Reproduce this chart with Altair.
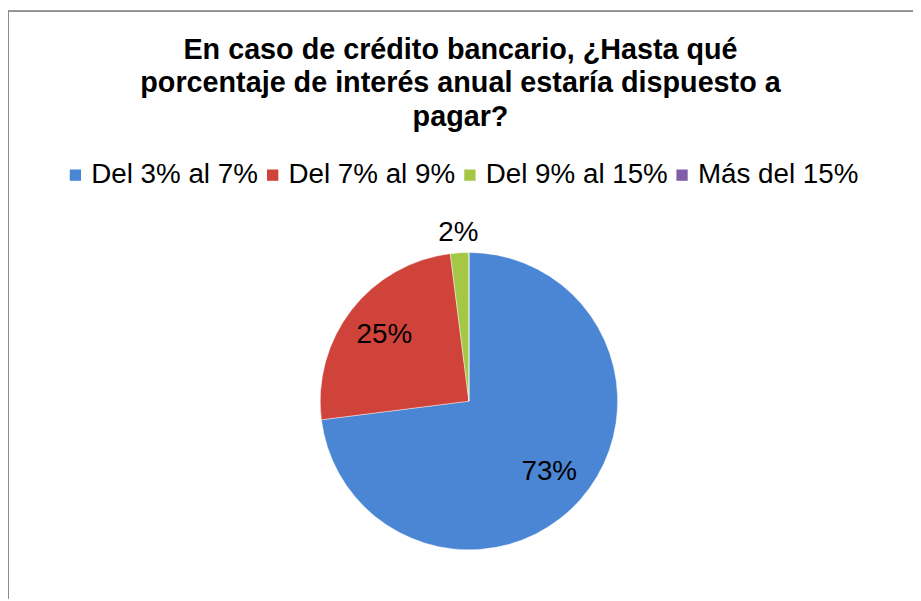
import altair as alt
import pandas as pd

categories = ["Del 3% al 7%", "Del 7% al 9%", "Del 9% al 15%", "Más del 15%"]
values = [73, 25, 2, 0]
labels = ["73%", "25%", "2%", ""]
colors = ["#4A86D4", "#D0433B", "#A4C845", "#7F60A8"]
title_lines = ["En caso de crédito bancario, ¿Hasta qué",
               "porcentaje de interés anual estaría dispuesto a",
               "pagar?"]

df = pd.DataFrame({"cat": categories, "val": values, "lab": labels,
                   "ord": list(range(len(categories)))})

FONT = "Liberation Sans"
CX, CY, R = 465, 394, 150
total = sum(values)

pie = alt.Chart(df).mark_arc(outerRadius=R, stroke="#ffffff", strokeWidth=0.6,
                             strokeOpacity=0.7).encode(
    theta=alt.Theta("val:Q", stack=True, scale=alt.Scale(domain=[0, total])),
    order=alt.Order("ord:Q"),
    x=alt.value(CX), y=alt.value(CY),
    color=alt.Color("cat:N", sort=categories,
                    scale=alt.Scale(domain=categories, range=colors),
                    legend=alt.Legend(orient="none", legendX=54, legendY=152,
                                      direction="horizontal", columns=4,
                                      title=None, symbolType="square",
                                      symbolSize=130, symbolStrokeWidth=0,
                                      labelFontSize=28, labelFont=FONT,
                                      labelColor="#000000", labelOffset=2,
                                      columnPadding=-1, labelLimit=400)),
)

text_base = alt.Chart(df).transform_stack(
    stack="val", as_=["v0", "v1"], groupby=[], sort=[alt.SortField("ord")]
).transform_calculate(mid="(datum.v0 + datum.v1) / 2")

theta_mid = alt.Theta("mid:Q", stack=None, scale=alt.Scale(domain=[0, total]))

inner = text_base.transform_filter("datum.val >= 5").mark_text(
    radius=108, fontSize=28, font=FONT, color="#000000").encode(
    theta=theta_mid, x=alt.value(CX), y=alt.value(CY), text="lab:N")

outer = text_base.transform_filter("datum.val > 0 && datum.val < 5").mark_text(
    radius=170, fontSize=28, font=FONT, color="#000000").encode(
    theta=theta_mid, x=alt.value(CX), y=alt.value(CY), text="lab:N")

frame_left = alt.Chart(df).mark_rule(color="#8c8c8c", strokeWidth=1).encode(
    x=alt.value(0.5), y=alt.value(0), y2=alt.value(593))
frame_top = alt.Chart(df).mark_rule(color="#8c8c8c", strokeWidth=1).encode(
    x=alt.value(0), x2=alt.value(913), y=alt.value(0.5))

chart = alt.layer(frame_left, frame_top, pie, inner, outer).properties(
    width=913, height=593,
    autosize=alt.AutoSizeParams(type="none"),
    padding=0,
    title=alt.TitleParams(title_lines, fontSize=29, font=FONT, fontWeight="bold",
                          color="#000000", anchor="middle", frame="group",
                          lineHeight=34, baseline="top", offset=0, dy=123, dx=0),
).configure_view(stroke=None)

chart.save("out.html", embed_options={"renderer": "svg", "actions": False})
